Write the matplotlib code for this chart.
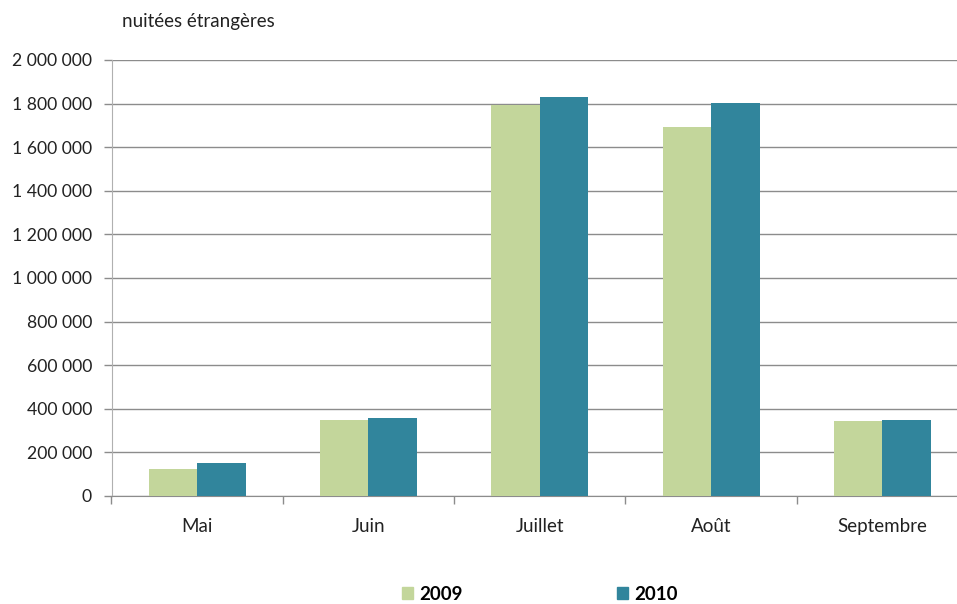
import numpy as np
import matplotlib.pyplot as plt
from matplotlib.ticker import FuncFormatter, FixedLocator
from matplotlib.patches import Patch

plt.rcParams['font.family'] = ['Lato', 'DejaVu Sans']

mois = ['Mai', 'Juin', 'Juillet', 'Août', 'Septembre']
nuitees_2009 = [123000, 347000, 1793000, 1694000, 343000]
nuitees_2010 = [153000, 356000, 1830000, 1801000, 347000]

vert = '#C3D69B'
bleu = '#31859C'

fig = plt.figure(figsize=(9.57, 6.04), dpi=100)
ax = fig.add_axes([111.5 / 957, 108 / 604, 856.5 / 957, 436 / 604])

x = np.arange(len(mois))
w = 0.283
ax.bar(x - w / 2, nuitees_2009, w, color=vert, zorder=3)
ax.bar(x + w / 2, nuitees_2010, w, color=bleu, zorder=3)

ax.set_xlim(-0.5, len(mois) - 0.5)
ax.set_ylim(0, 2000000)
ax.set_yticks(np.arange(0, 2000001, 200000))
ax.yaxis.set_major_formatter(FuncFormatter(lambda v, p: f'{int(v):,}'.replace(',', ' ')))
ax.grid(axis='y', color='#8c8c8c', linewidth=1, zorder=0)

ax.set_xticks(x)
ax.set_xticklabels(mois)
ax.xaxis.set_minor_locator(FixedLocator(np.arange(-0.5, len(mois), 1)))
ax.tick_params(axis='x', which='major', length=0, pad=16, labelsize=13.5, colors='#222222')
ax.tick_params(axis='x', which='minor', length=6, color='#8c8c8c', width=1)
ax.tick_params(axis='y', length=6, color='#8c8c8c', width=1, pad=8, labelsize=12.7, labelcolor='#222222')

for s in ['top', 'right']:
    ax.spines[s].set_visible(False)
ax.spines['left'].set_color('#b0b0b0')
ax.spines['bottom'].set_color('#8c8c8c')

fig.text(122 / 957, 1 - 22 / 604, 'nuitées étrangères', fontsize=13.5, color='#222222', va='center', ha='left')

handles = [Patch(color=vert, label='2009'), Patch(color=bleu, label='2010')]
fig.legend(handles=handles, loc='center', bbox_to_anchor=(540 / 957, 1 - 594 / 604), ncol=2,
           frameon=False, prop={'weight': 'bold', 'size': 13.5}, handlelength=0.6, handleheight=0.6,
           handletextpad=0.35, columnspacing=8.2)

fig.savefig('out.png', dpi=100)
